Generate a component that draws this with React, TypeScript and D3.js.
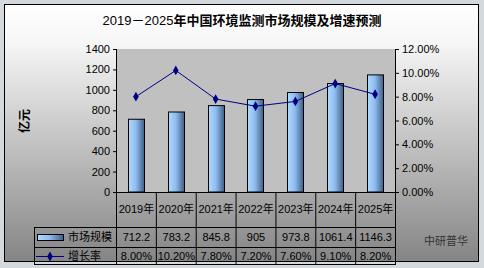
import React from "react";
import * as d3 from "d3";

const years = ["2019年", "2020年", "2021年", "2022年", "2023年", "2024年", "2025年"];
const marketSize = [712.2, 783.2, 845.8, 905, 973.8, 1061.4, 1146.3];
const growthRate = [8.0, 10.2, 7.8, 7.2, 7.6, 9.1, 8.2];
const sizeLabels = ["712.2", "783.2", "845.8", "905", "973.8", "1061.4", "1146.3"];
const rateLabels = ["8.00%", "10.20%", "7.80%", "7.20%", "7.60%", "9.10%", "8.20%"];
const leftTicks = [0, 200, 400, 600, 800, 1000, 1200, 1400];
const rightTicks = [0, 2, 4, 6, 8, 10, 12];
const seriesNames = ["市场规模", "增长率"];
const titleYears = "2019－2025";
const titleRest = "年中国环境监测市场规模及增速预测";

const W = 484, H = 268;
const FONT = "'Liberation Sans', Arial, 'Noto Sans CJK SC', sans-serif";
const CJK = "'Noto Sans CJK SC', 'Liberation Sans', sans-serif";

export default function App() {
  const plot = { l: 116, r: 395, t: 49, b: 192 };
  const x = d3.scaleBand<string>().domain(years).range([plot.l, plot.r]);
  const yL = d3.scaleLinear().domain([0, 1400]).range([plot.b, plot.t]);
  const yR = d3.scaleLinear().domain([0, 12]).range([plot.b, plot.t]);
  const barW = 16;
  const line = d3
    .line<number>()
    .x((_, i) => (x(years[i]) as number) + x.bandwidth() / 2)
    .y((d) => yR(d));
  const diamond = d3.symbol().type(d3.symbolDiamond).size(28)();

  const rowLines = [227, 247, 264];
  const legendL = 34;

  return (
    <svg
      width={W}
      height={H}
      style={{ position: "absolute", left: 0, top: 0, display: "block" }}
    >
      <defs>
        <linearGradient id="bg" x1="0" y1="0" x2="0" y2="1">
          <stop offset="0" stopColor="#ffffff" />
          <stop offset="0.15" stopColor="#f6f6f6" />
          <stop offset="1" stopColor="#858585" />
        </linearGradient>
        <linearGradient id="bar" x1="0" y1="0" x2="1" y2="0">
          <stop offset="0" stopColor="#addafe" />
          <stop offset="0.45" stopColor="#90bdf0" />
          <stop offset="1" stopColor="#3f5f85" />
        </linearGradient>
      </defs>
      <rect x={0} y={0} width={W} height={H} fill="#d3d9dd" />
      <rect x={4.5} y={4.5} width={474} height={257} fill="url(#bg)" stroke="#000" strokeWidth={1} />

      <text x={242} y={25} textAnchor="middle" fontSize={13} fontFamily={CJK} fill="#000">
        <tspan fontFamily={FONT} fontWeight="normal">{titleYears}</tspan>
        <tspan fontWeight="bold">{titleRest}</tspan>
      </text>

      <rect x={plot.l} y={plot.t} width={plot.r - plot.l} height={plot.b - plot.t} fill="#c0c0c0" />

      {marketSize.map((v, i) => {
        const cx = (x(years[i]) as number) + x.bandwidth() / 2;
        return (
          <rect
            key={i}
            x={Math.round(cx - barW / 2) + 0.5}
            y={yL(v)}
            width={barW}
            height={plot.b - yL(v)}
            fill="url(#bar)"
            stroke="#000"
            strokeWidth={1}
          />
        );
      })}

      <path d={line(growthRate) || ""} fill="none" stroke="#000080" strokeWidth={1} />
      {growthRate.map((v, i) => (
        <path
          key={i}
          d={diamond || ""}
          transform={`translate(${(x(years[i]) as number) + x.bandwidth() / 2},${yR(v)})`}
          fill="#000080"
        />
      ))}

      {/* left axis */}
      <line x1={plot.l + 0.5} x2={plot.l + 0.5} y1={plot.t} y2={plot.b} stroke="#000" />
      {leftTicks.map((t) => (
        <g key={t}>
          <line x1={plot.l - 3} x2={plot.l} y1={yL(t) + 0.5} y2={yL(t) + 0.5} stroke="#000" />
          <text x={110} y={yL(t) + 4} textAnchor="end" fontSize={11} fontFamily={FONT} fill="#000">
            {t}
          </text>
        </g>
      ))}
      {/* right axis */}
      <line x1={plot.r + 0.5} x2={plot.r + 0.5} y1={plot.t} y2={plot.b} stroke="#000" />
      {rightTicks.map((t) => (
        <g key={t}>
          <line x1={plot.r} x2={plot.r + 4} y1={yR(t) + 0.5} y2={yR(t) + 0.5} stroke="#000" />
          <text x={402} y={yR(t) + 4} textAnchor="start" fontSize={11} fontFamily={FONT} fill="#000">
            {t.toFixed(2) + "%"}
          </text>
        </g>
      ))}

      <text
        transform="translate(29,121) rotate(-90)"
        textAnchor="middle"
        fontSize={12}
        fontFamily={CJK}
        fontWeight="bold"
        fill="#000"
      >
        亿元
      </text>

      {/* data table */}
      <line x1={plot.l} x2={plot.r + 1} y1={plot.b + 0.5} y2={plot.b + 0.5} stroke="#000" />
      {years.map((_, i) => (
        <line
          key={i}
          x1={(x(years[i]) as number) + 0.5}
          x2={(x(years[i]) as number) + 0.5}
          y1={plot.b}
          y2={264}
          stroke="#000"
        />
      ))}
      <line x1={plot.r + 0.5} x2={plot.r + 0.5} y1={plot.b} y2={264} stroke="#000" />
      <line x1={legendL + 0.5} x2={legendL + 0.5} y1={227} y2={264} stroke="#000" />
      {rowLines.map((yy) => (
        <line key={yy} x1={legendL} x2={plot.r + 1} y1={yy + 0.5} y2={yy + 0.5} stroke="#000" />
      ))}
      {years.map((yr, i) => {
        const cx = (x(yr) as number) + x.bandwidth() / 2;
        return (
          <g key={yr} fontSize={11} fontFamily={FONT} fill="#000" textAnchor="middle">
            <text x={cx + 0.5} y={213}>{yr}</text>
            <text x={cx + 0.5} y={241}>{sizeLabels[i]}</text>
            <text x={cx + 0.5} y={260}>{rateLabels[i]}</text>
          </g>
        );
      })}

      {/* legend keys */}
      <rect x={37.5} y={234.5} width={26} height={6} fill="url(#bar)" stroke="#000" />
      <text x={68} y={241} fontSize={11} fontFamily={CJK} fill="#000">{seriesNames[0]}</text>
      <line x1={36} x2={64} y1={256.5} y2={256.5} stroke="#000080" />
      <path d={diamond || ""} transform="translate(50,256.5)" fill="#000080" />
      <text x={68} y={260} fontSize={11} fontFamily={CJK} fill="#000">{seriesNames[1]}</text>

      <text x={446} y={245} textAnchor="middle" fontSize={11} fontFamily={CJK} fill="#333">
        中研普华
      </text>
    </svg>
  );
}
